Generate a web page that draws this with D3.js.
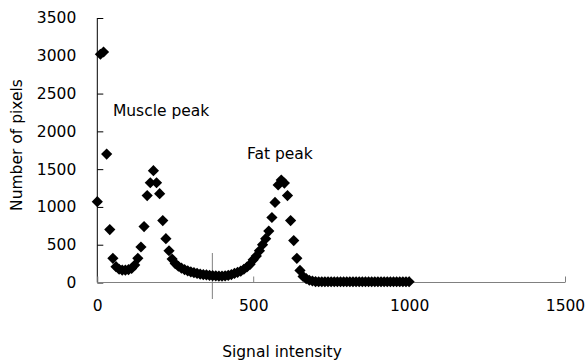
<!DOCTYPE html>
<html><head><meta charset="utf-8">
<script src="https://cdn.jsdelivr.net/npm/d3@7"></script>
<style>body{margin:0;background:#fff}svg{display:block}</style>
</head><body>
<svg id="c" width="585" height="364"></svg>
<script>
// Data: signal intensity (x) and number of pixels (y)
const intensity = d3.range(0, 1001, 10);
const pixels = [
 1070,3020,3050,1700,700,320,210,175,165,165,
 170,185,230,320,470,740,1150,1320,1480,1320,
 1175,820,580,420,310,250,215,190,170,155,
 140,130,120,112,105,100,95,90,88,85,
 85,88,95,105,120,135,150,175,205,240,
 300,350,420,500,580,680,860,1060,1290,1355,
 1315,1150,820,555,320,160,80,50,30,20,
 12,10,10,10,10,10,10,10,10,10,
 10,10,10,10,10,10,10,10,10,10,
 10,10,10,10,10,10,10,10,10,10,10
];
const xTicks = [0, 500, 1000, 1500];
const yTicks = [0, 500, 1000, 1500, 2000, 2500, 3000, 3500];
const markerX = 369;
const annotations = [
  {text: "Muscle peak", x: 50, y: 2200},
  {text: "Fat peak", x: 480, y: 1640}
];

const svg = d3.select("#c");
const font = "DejaVu Sans, Verdana, sans-serif";
const x = d3.scaleLinear().domain([0, 1500]).range([97.3, 565]);
const y = d3.scaleLinear().domain([0, 3500]).range([282.5, 18]);

// Y axis
const yAxis = svg.append("g").attr("transform", `translate(${x(0)},0)`)
  .call(d3.axisLeft(y).tickValues(yTicks).tickSize(-6).tickPadding(21).tickFormat(d3.format("d")));
yAxis.select(".domain").attr("stroke", "#000").attr("d", `M0,${y(3500)}V${y(0)}`);
yAxis.selectAll(".tick line").attr("stroke", "#000");
yAxis.selectAll("text").attr("font-family", font).attr("font-size", 15.5).attr("fill", "#000");

// X axis
const xAxis = svg.append("g").attr("transform", `translate(0,${y(0)})`)
  .call(d3.axisBottom(x).tickValues(xTicks).tickSize(-6).tickPadding(17).tickFormat(d3.format("d")));
xAxis.select(".domain").attr("stroke", "#808080").attr("d", `M${x(0)},0H${x(1500)}`);
xAxis.selectAll(".tick line").attr("stroke", "#808080");
xAxis.selectAll("text").attr("font-family", font).attr("font-size", 15.5).attr("fill", "#000");

// Marker line
svg.append("line").attr("x1", x(markerX)).attr("x2", x(markerX))
  .attr("y1", 253).attr("y2", 299).attr("stroke", "#808080").attr("stroke-width", 1);

// Points
const r = 5.6;
svg.append("g").selectAll("path").data(intensity.map((d, i) => [d, pixels[i]]))
  .join("path")
  .attr("d", `M0,${-r}L${r},0L0,${r}L${-r},0Z`)
  .attr("transform", d => `translate(${x(d[0])},${y(d[1])})`)
  .attr("fill", "#000");

// Annotations
svg.append("g").selectAll("text").data(annotations).join("text")
  .attr("x", d => x(d.x)).attr("y", d => y(d.y))
  .attr("font-family", font).attr("font-size", 15.5).attr("fill", "#000")
  .text(d => d.text);

// Axis titles
svg.append("text").attr("x", 282).attr("y", 357).attr("text-anchor", "middle")
  .attr("font-family", font).attr("font-size", 15.5).text("Signal intensity");
svg.append("text").attr("transform", "translate(22,145) rotate(-90)").attr("text-anchor", "middle")
  .attr("font-family", font).attr("font-size", 15.5).text("Number of pixels");
</script>
</body></html>
